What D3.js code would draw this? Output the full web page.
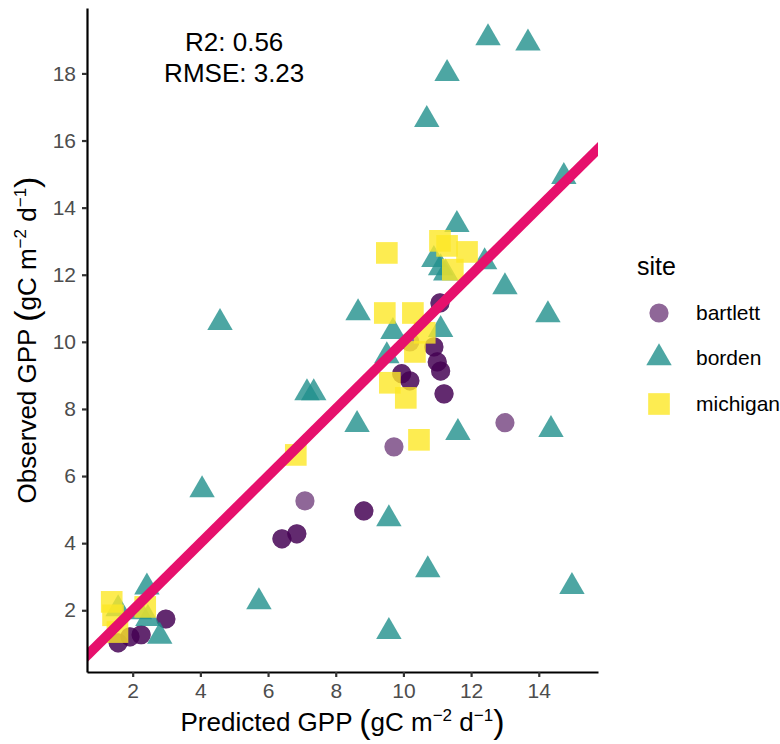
<!DOCTYPE html>
<html>
<head>
<meta charset="utf-8">
<script src="https://cdn.jsdelivr.net/npm/d3@7"></script>
<style>
body { margin: 0; background: #fff; }
text { font-family: "Liberation Sans", Arial, sans-serif; }
</style>
</head>
<body>
<script>
// sites and their colours (viridis, 3 levels)
var sites = ["bartlett", "borden", "michigan"];
var siteColors = ["#440154", "#21908C", "#FDE725"];
var siteAlpha = [0.6, 0.8, 0.8];

// bartlett (some spots hold two overplotted observations, listed twice)
var bartlettX = [13.0, 9.72, 7.09, 8.83, 8.83, 6.85, 6.85, 6.41, 6.41,
  2.98, 2.98, 1.57, 1.57, 1.92, 1.92, 2.25, 2.25,
  11.08, 11.08, 10.19, 10.9, 10.9, 11.0, 11.0, 11.1, 11.1, 9.95, 9.95, 10.19, 10.19, 11.2, 11.2];
var bartlettY = [7.59, 6.87, 5.26, 4.96, 4.96, 4.28, 4.28, 4.13, 4.13,
  1.74, 1.74, 1.03, 1.03, 1.21, 1.21, 1.27, 1.27,
  11.16, 11.16, 10.0, 9.85, 9.85, 9.4, 9.4, 9.13, 9.13, 9.05, 9.05, 8.84, 8.84, 8.45, 8.45];

var bordenX = [12.5, 13.68, 11.29, 10.69, 14.74, 11.58, 12.4, 10.9, 11.1, 11.25,
  11.1, 8.66, 4.58, 9.69, 9.51, 13.0, 14.27, 7.15, 7.35, 8.63, 11.61, 14.36,
  14.98, 4.05, 9.57, 10.72, 9.57, 5.73, 2.8, 2.42, 1.57, 2.2, 2.45];
var bordenY = [19.06, 18.9, 17.99, 16.62, 14.92, 13.49, 12.38, 12.45, 12.2, 12.05,
  10.36, 10.86, 10.57, 10.3, 9.58, 11.64, 10.8, 8.48, 8.48, 7.53, 7.29, 7.38,
  2.7, 5.59, 4.72, 3.2, 1.36, 2.25, 1.22, 2.69, 2.04, 1.95, 1.75];

var michiganX = [1.38, 1.42, 1.55, 2.37, 6.82, 10.46, 10.07, 9.6, 9.51, 9.45,
  10.28, 10.63, 10.34, 11.08, 11.29, 11.88, 11.46];
var michiganY = [2.25, 1.85, 1.35, 2.1, 6.63, 7.08, 8.33, 8.78, 12.65, 10.86,
  10.86, 10.27, 9.7, 13.01, 12.86, 12.68, 12.15];

var xTicks = [2, 4, 6, 8, 10, 12, 14];
var yTicks = [2, 4, 6, 8, 10, 12, 14, 16, 18];
var statLines = ["R2: 0.56", "RMSE: 3.23"];

var width = 780, height = 744;
var panelLeft = 87, panelRight = 598, panelTop = 8, panelBottom = 672;

var svg = d3.select("body").append("svg")
  .attr("width", width)
  .attr("height", height);

var x = d3.scaleLinear().domain([0.65, 15.75]).range([panelLeft, panelRight]);
var y = d3.scaleLinear().domain([0.16, 19.95]).range([panelBottom, panelTop]);

svg.append("clipPath").attr("id", "panel")
  .append("rect")
  .attr("x", panelLeft).attr("y", panelTop)
  .attr("width", panelRight - panelLeft).attr("height", panelBottom - panelTop);

function pts(xs, ys) {
  return xs.map(function(v, i) { return {x: v, y: ys[i]}; });
}
var groups = [pts(bartlettX, bartlettY), pts(bordenX, bordenY), pts(michiganX, michiganY)];
var shapes = [d3.symbolCircle, d3.symbolTriangle, d3.symbolSquare];
var sizes = [290, 280, 470];

groups.forEach(function(g, k) {
  svg.append("g").selectAll("path")
    .data(g)
    .enter()
    .append("path")
    .attr("d", d3.symbol().type(shapes[k]).size(sizes[k]))
    .attr("transform", function(d) { return "translate(" + x(d.x) + "," + y(d.y) + ")"; })
    .style("fill", siteColors[k])
    .style("fill-opacity", siteAlpha[k]);
});

// 1:1 line
var lim = x.domain();
svg.append("line")
  .attr("clip-path", "url(#panel)")
  .attr("x1", x(lim[0] - 1)).attr("y1", y(lim[0] - 1))
  .attr("x2", x(lim[1] + 1)).attr("y2", y(lim[1] + 1))
  .style("stroke", "#E6106C")
  .style("stroke-width", 10);

// axes
var xAxis = svg.append("g")
  .attr("transform", "translate(0," + panelBottom + ")")
  .call(d3.axisBottom(x).tickValues(xTicks).tickSize(5).tickPadding(6).tickSizeOuter(0));
var yAxis = svg.append("g")
  .attr("transform", "translate(" + panelLeft + ",0)")
  .call(d3.axisLeft(y).tickValues(yTicks).tickSize(5).tickPadding(6).tickSizeOuter(0));

[xAxis, yAxis].forEach(function(a) {
  a.select(".domain").style("stroke", "#000").style("stroke-width", 2.2);
  a.selectAll(".tick line").style("stroke", "#333").style("stroke-width", 2.2);
  a.selectAll(".tick text")
    .style("font-size", "21px")
    .style("fill", "#4D4D4D")
    .style("font-family", "'Liberation Sans', Arial, sans-serif");
});

// stats annotation
svg.append("g").selectAll("text")
  .data(statLines)
  .enter()
  .append("text")
  .attr("x", x(5))
  .attr("y", function(d, i) { return 51 + i * 31; })
  .attr("text-anchor", "middle")
  .style("font-size", "26px")
  .style("fill", "#000")
  .text(function(d) { return d; });

// axis titles with units
function unitTitle(sel, label) {
  sel.append("tspan").text(label + " ");
  sel.append("tspan").text("(").style("font-size", "34px").attr("dy", 2);
  sel.append("tspan").text("gC m").attr("dy", -2);
  sel.append("tspan").text("\u22122").style("font-size", "17px").attr("dy", -10);
  sel.append("tspan").text(" d").attr("dy", 10);
  sel.append("tspan").text("\u22121").style("font-size", "17px").attr("dy", -10);
  sel.append("tspan").text(")").style("font-size", "34px").attr("dy", 12);
}

var xt = svg.append("text")
  .attr("x", (panelLeft + panelRight) / 2)
  .attr("y", 731)
  .attr("text-anchor", "middle")
  .style("font-size", "26px");
unitTitle(xt, "Predicted GPP");

var yt = svg.append("text")
  .attr("transform", "translate(36," + (panelTop + panelBottom) / 2 + ") rotate(-90)")
  .attr("text-anchor", "middle")
  .style("font-size", "26px");
unitTitle(yt, "Observed GPP");

// legend
var legend = svg.append("g");
legend.append("text")
  .attr("x", 637).attr("y", 275)
  .style("font-size", "25px")
  .text("site");

var keyY = [313, 358, 404];
sites.forEach(function(s, k) {
  legend.append("path")
    .attr("d", d3.symbol().type(shapes[k]).size(sizes[k]))
    .attr("transform", "translate(659," + keyY[k] + ")")
    .style("fill", siteColors[k])
    .style("fill-opacity", siteAlpha[k]);
  legend.append("text")
    .attr("x", 696).attr("y", keyY[k] + 7)
    .style("font-size", "21px")
    .text(s);
});
</script>
</body>
</html>
